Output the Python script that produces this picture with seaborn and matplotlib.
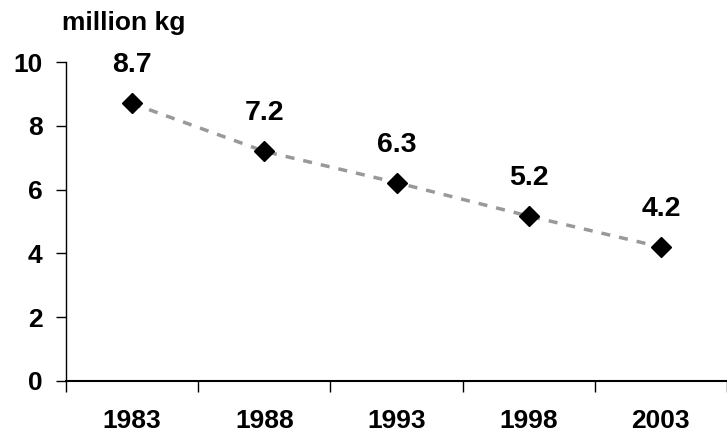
import matplotlib
matplotlib.use('Agg')
import matplotlib.pyplot as plt
import numpy as np
import pandas as pd
import seaborn as sns

# data
years = ['1983', '1988', '1993', '1998', '2003']
values = [8.7, 7.2, 6.22, 5.17, 4.2]
value_labels = ['8.7', '7.2', '6.3', '5.2', '4.2']

df = pd.DataFrame({'year': years, 'value': values})
df['pos'] = np.arange(len(df))

sns.set_style('white')
plt.rcParams['font.family'] = ['Liberation Sans', 'DejaVu Sans']
plt.rcParams['font.weight'] = 'bold'
plt.rcParams['text.color'] = 'black'
plt.rcParams['xtick.color'] = 'black'
plt.rcParams['ytick.color'] = 'black'

fig = plt.figure(figsize=(7.27, 4.43), dpi=100)
ax = fig.add_axes([0.0908, 0.14, 0.9092, 0.72])

sns.lineplot(data=df, x='pos', y='value', ax=ax, color='#999999',
             linewidth=2.5, dashes=False, marker=None)
ax.lines[0].set_dashes((2.6, 2.6))
ax.plot(df['pos'], df['value'], linestyle='none', marker='D',
        markersize=10, color='black', zorder=5)

for x, y, lab in zip(df['pos'], df['value'], value_labels):
    ax.annotate(lab, (x, y), xytext=(0, 18), textcoords='offset points',
                ha='center', va='bottom', fontsize=20.5, fontweight='bold')

ax.set_xlim(-0.5, len(years) - 0.5)
ax.set_ylim(0, 10)
ax.set_yticks(np.arange(0, 11, 2))
ax.set_xticks(df['pos'])
ax.set_xticklabels(years)
ax.set_xticks(np.arange(-0.5, len(years), 1), minor=True)
ax.tick_params(axis='x', which='major', length=0, pad=20, labelsize=19)
ax.tick_params(axis='x', which='minor', length=8, width=1, direction='out',
               bottom=True)
ax.tick_params(axis='y', length=7, width=1, direction='out', left=True,
               pad=10, labelsize=19)
for lab in ax.get_xticklabels() + ax.get_yticklabels():
    lab.set_fontweight('bold')

ax.set_xlabel('')
ax.set_ylabel('')
for side in ['top', 'right']:
    ax.spines[side].set_visible(False)
ax.spines['left'].set_color('black')
ax.spines['bottom'].set_color('black')
ax.spines['left'].set_linewidth(1)
ax.spines['bottom'].set_linewidth(1.5)

fig.text(0.085, 0.948, 'million kg', ha='left', va='center',
         fontsize=19, fontweight='bold')

fig.savefig('out.png', dpi=100)
